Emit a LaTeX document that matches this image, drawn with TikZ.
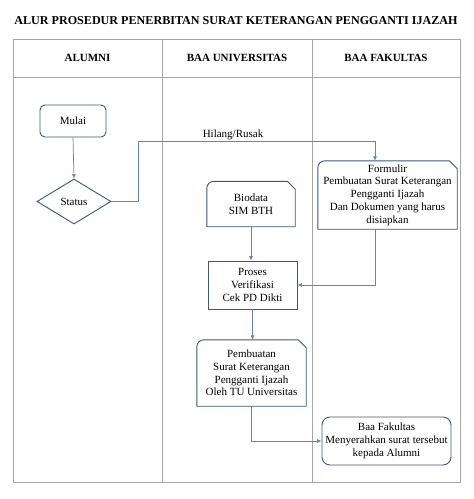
\documentclass[tikz,border=0pt]{standalone}
\usepackage{fontspec}
\setmainfont{Liberation Serif}
\usetikzlibrary{shapes.geometric,arrows.meta}
\definecolor{boxblue}{HTML}{3B5780}
\definecolor{flowblue}{HTML}{6283C4}
\definecolor{gridgray}{HTML}{A6A6A6}
\tikzset{
  tableline/.style={draw=gridgray,line width=0.9pt},
  boxline/.style={draw=boxblue,line width=0.9pt},
  flow/.style={draw=flowblue,line width=0.7pt,-{Latex[length=4.5pt,width=4pt]},flowblue},
  boxtext/.style={align=center,inner sep=0pt,text=black,font=\fontsize{11}{12.75}\selectfont},
  headtext/.style={font=\fontsize{11}{12}\selectfont\bfseries},
}
% frame with round top-left corner and snipped top-right corner
\newcommand{\snipframe}[1]{%
  \draw[boxline] (#1.south west) -- ([yshift=-7pt]#1.north west)
    arc[start angle=180,end angle=90,radius=7pt]
    -- ([xshift=-8pt]#1.north east) -- ([yshift=-8pt]#1.north east)
    -- (#1.south east) -- cycle;}
\begin{document}
\begin{tikzpicture}[x=1pt,y=-1pt]
\useasboundingbox (0,0) rectangle (474,499);
% table
\draw[tableline] (13,39) rectangle (460,482);
\draw[tableline] (13,77) -- (460,77);
\draw[tableline] (162,39) -- (162,482);
\draw[tableline] (312,39) -- (312,482);
\node[font=\fontsize{12.1}{14}\selectfont\bfseries] (title) at (236,21) {ALUR PROSEDUR PENERBITAN SURAT KETERANGAN PENGGANTI IJAZAH};
\node[headtext] (alumni) at (87.5,58) {ALUMNI};
\node[headtext] (baauniv) at (237,58) {BAA UNIVERSITAS};
\node[headtext] (baafak) at (386,58) {BAA FAKULTAS};
% boxes
\node[boxtext,boxline,rounded corners=5pt,minimum width=66pt,minimum height=32pt] (mulai) at (73,121) {Mulai};
\node[boxtext,boxline,diamond,minimum width=74pt,minimum height=45pt] (status) at (74,201.5) {Status};
\node[boxtext,minimum width=88pt,minimum height=45pt] (biodata) at (251,204) {Biodata\\SIM BTH};
\snipframe{biodata}
\node[boxtext,minimum width=139pt,minimum height=68pt] (formulir) at (387.5,195) {Formulir\\Pembuatan Surat Keterangan\\Pengganti Ijazah\\Dan Dokumen yang harus\\disiapkan};
\snipframe{formulir}
\node[boxtext,boxline,minimum width=89pt,minimum height=48pt] (proses) at (252.5,285) {Proses\\Verifikasi\\Cek PD Dikti};
\node[boxtext,minimum width=109pt,minimum height=66pt] (pembuatan) at (251.5,373) {Pembuatan\\Surat Keterangan\\Pengganti Ijazah\\Oleh TU Universitas};
\snipframe{pembuatan}
\node[boxtext,boxline,rounded corners=8pt,minimum width=129pt,minimum height=48pt] (baa) at (386.5,441) {Baa Fakultas\\Menyerahkan surat tersebut\\kepada Alumni};
% connectors
\coordinate (bend) at (138,141);
\coordinate (fin) at ([xshift=-12.5pt]formulir.north);
\coordinate (fout) at ([xshift=-12.5pt]formulir.south);
\draw[flow] (mulai.south) -- (status.north);
\draw[flow] (status.east) -| (bend) -| (fin);
\node[boxtext,anchor=south] (hilang) at (233,140) {Hilang/Rusak};
\draw[flow] (biodata.south) -- (biodata.south |- proses.north);
\draw[flow] (fout) |- (proses.east);
\draw[flow] (proses.south) -- (proses.south |- pembuatan.north);
\draw[flow] (pembuatan.south) |- (baa.west);
\end{tikzpicture}
\end{document}
